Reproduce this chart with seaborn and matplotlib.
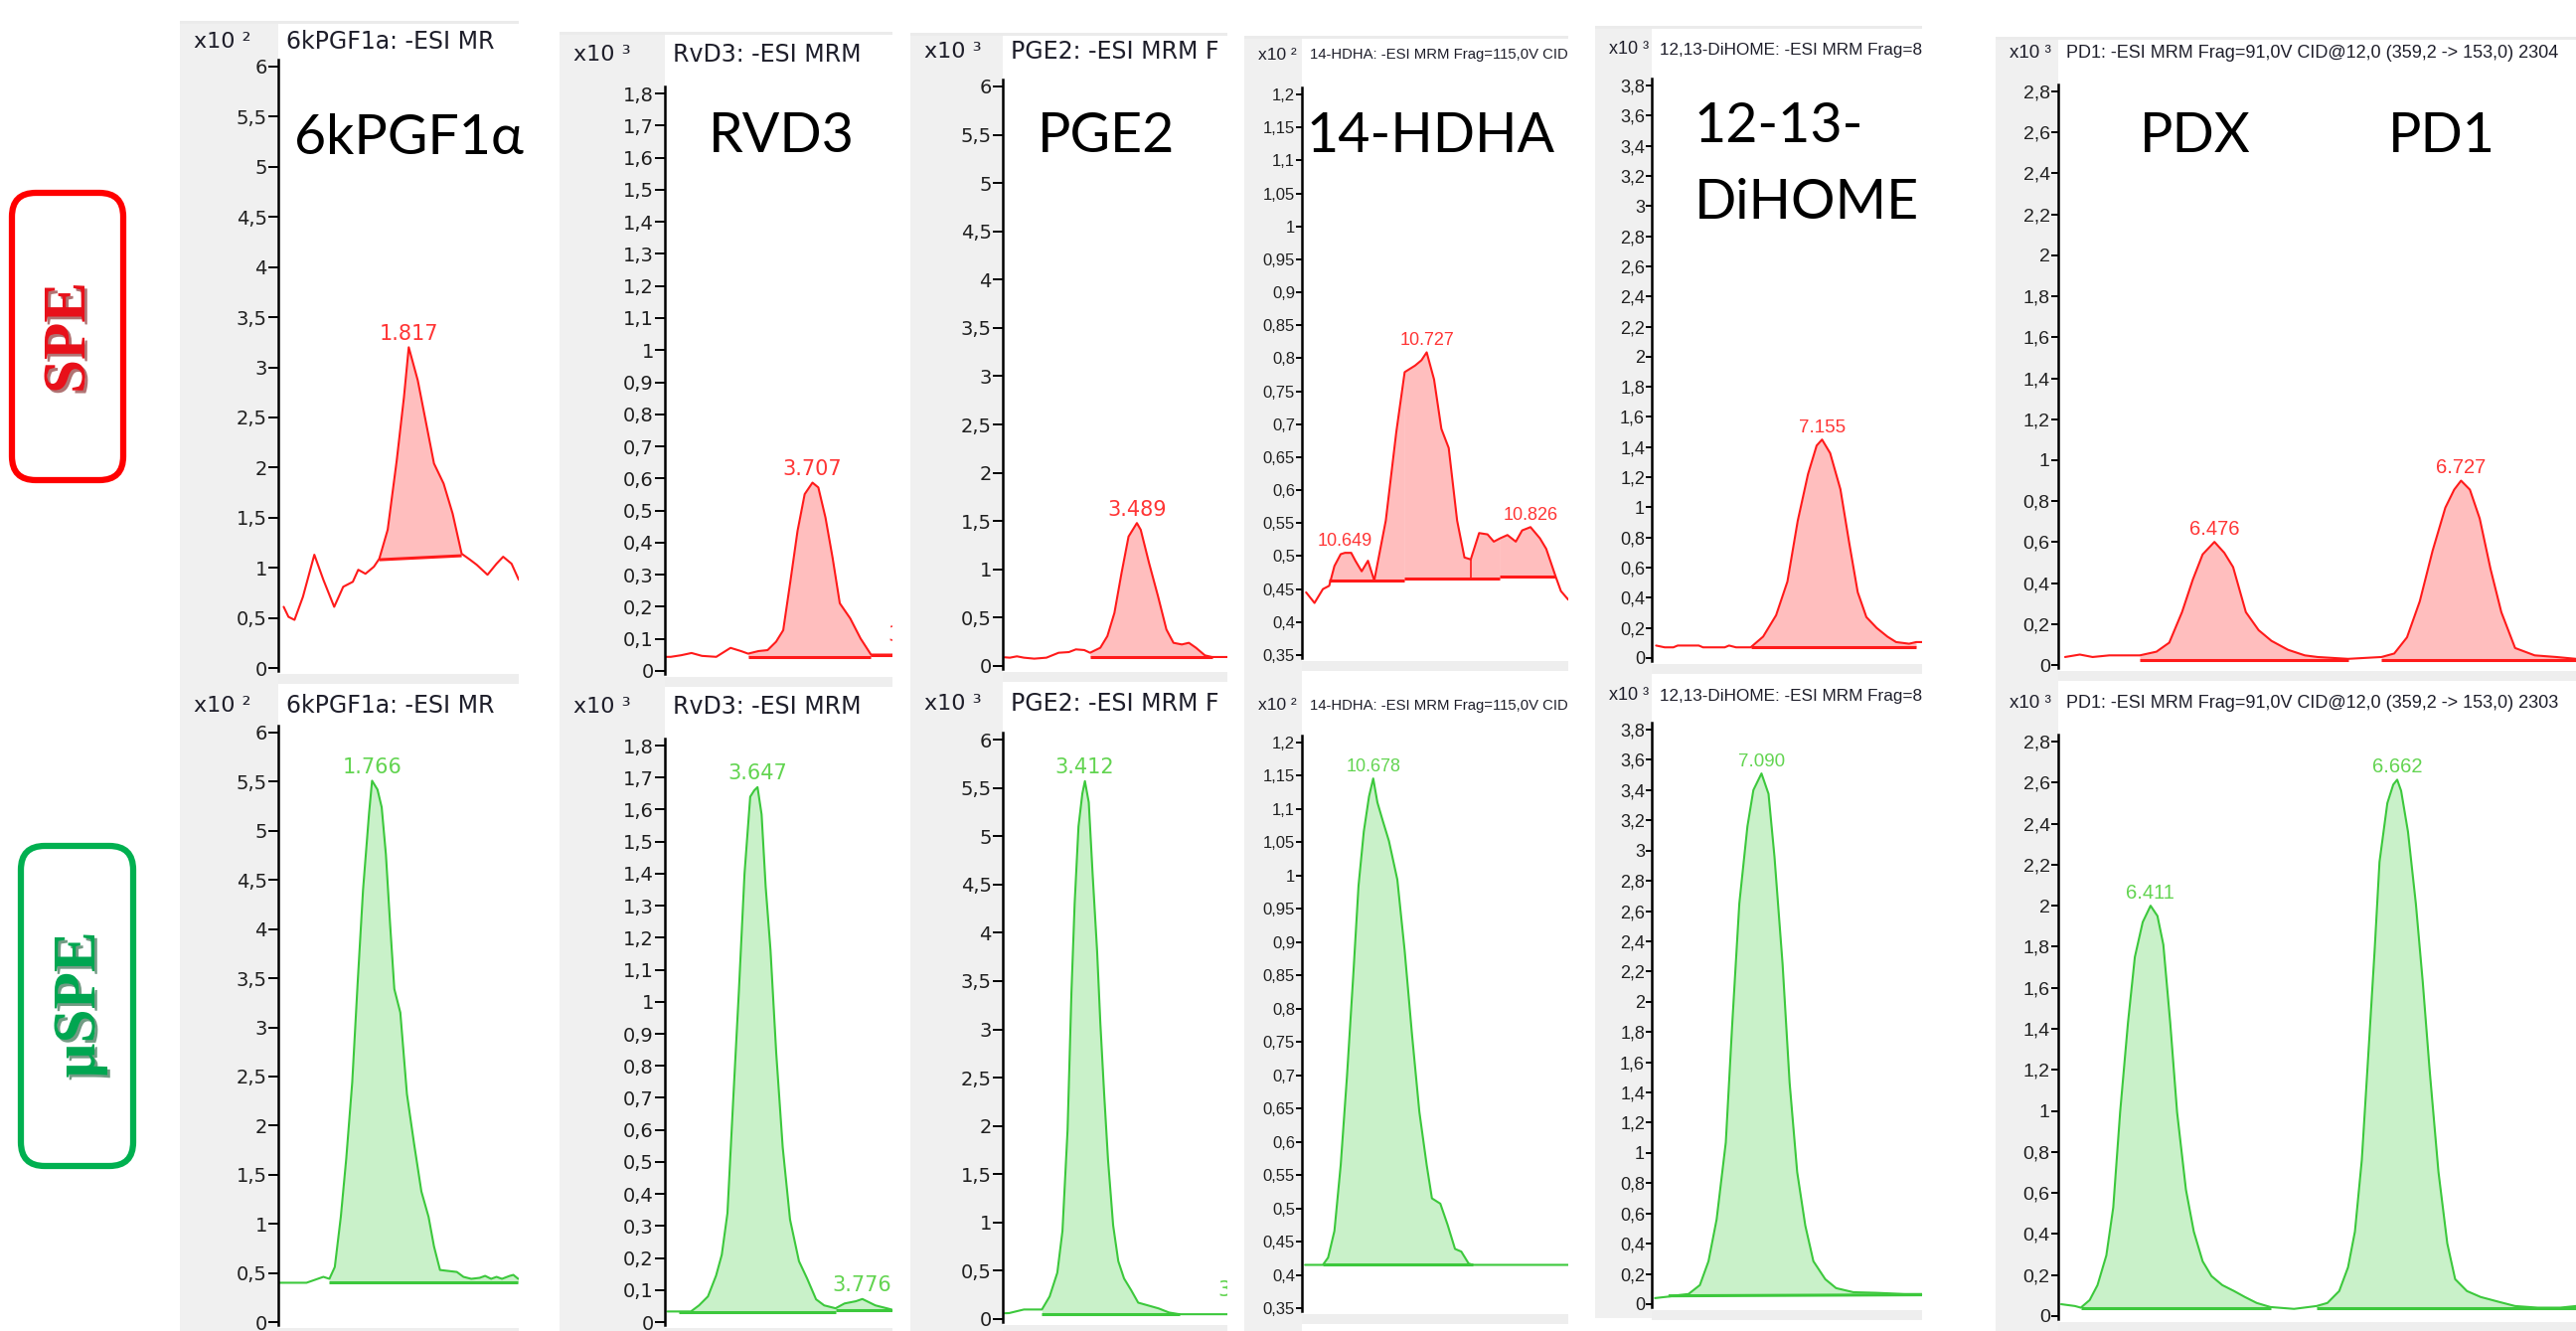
import numpy as np
import matplotlib
matplotlib.use("Agg")
import matplotlib.pyplot as plt
import matplotlib.patheffects as pe
from matplotlib import font_manager as fm
from matplotlib.patches import Rectangle, FancyBboxPatch
from matplotlib.ticker import FixedLocator, FuncFormatter
import seaborn as sns

# ---------------------------------------------------------------------------
# chromatogram traces: retention time (min) / abundance in axis units (x10^n)
# ---------------------------------------------------------------------------
T_6K_SPE = [1.609, 1.617, 1.627, 1.641, 1.660, 1.675, 1.693, 1.708, 1.724, 1.733, 1.745, 1.759,
            1.768, 1.782, 1.797, 1.809, 1.817, 1.832, 1.859, 1.875, 1.890, 1.905, 1.919, 1.930,
            1.948, 1.963, 1.974, 1.988, 2.000]
Y_6K_SPE = [0.61, 0.51, 0.48, 0.71, 1.13, 0.88, 0.61, 0.81, 0.86, 0.98, 0.94, 1.01,
            1.09, 1.38, 2.07, 2.70, 3.20, 2.87, 2.04, 1.84, 1.54, 1.14, 1.08, 1.03,
            0.93, 1.04, 1.11, 1.04, 0.88]
T_6K_USPE = [1.612, 1.621, 1.657, 1.671, 1.685, 1.695, 1.704, 1.714, 1.723, 1.733, 1.742, 1.751,
             1.761, 1.766, 1.775, 1.782, 1.789, 1.796, 1.803, 1.813, 1.824, 1.836, 1.848, 1.860,
             1.869, 1.879, 1.893, 1.907, 1.918, 1.931, 1.945, 1.954, 1.964, 1.973, 1.982, 1.995,
             2.001, 2.009]
Y_6K_USPE = [0.40, 0.40, 0.40, 0.43, 0.46, 0.44, 0.56, 1.07, 1.66, 2.44, 3.45, 4.40,
             5.18, 5.51, 5.42, 5.24, 4.76, 4.05, 3.39, 3.15, 2.32, 1.81, 1.33, 1.07,
             0.77, 0.53, 0.52, 0.51, 0.46, 0.44, 0.45, 0.47, 0.44, 0.46, 0.44, 0.47,
             0.48, 0.44]

T_RVD3_SPE = [3.481, 3.489, 3.505, 3.521, 3.537, 3.559, 3.581, 3.597, 3.608, 3.624, 3.638, 3.651,
              3.662, 3.673, 3.684, 3.695, 3.707, 3.716, 3.727, 3.738, 3.749, 3.765, 3.781, 3.797,
              3.830]
Y_RVD3_SPE = [0.044, 0.044, 0.049, 0.056, 0.047, 0.044, 0.072, 0.062, 0.054, 0.062, 0.065, 0.091,
              0.127, 0.279, 0.436, 0.551, 0.587, 0.572, 0.478, 0.352, 0.211, 0.164, 0.101, 0.051,
              0.051]
T_RVD3_USPE = [3.536, 3.542, 3.565, 3.575, 3.586, 3.596, 3.603, 3.610, 3.617, 3.624, 3.631, 3.638,
               3.643, 3.647, 3.652, 3.657, 3.663, 3.670, 3.678, 3.687, 3.698, 3.708, 3.719, 3.729,
               3.743, 3.754, 3.768, 3.776, 3.792, 3.806, 3.812]
Y_RVD3_USPE = [0.033, 0.033, 0.033, 0.052, 0.080, 0.145, 0.21, 0.34, 0.69, 1.03, 1.40, 1.64,
               1.66, 1.67, 1.585, 1.36, 1.16, 0.84, 0.545, 0.32, 0.19, 0.136, 0.071, 0.052,
               0.043, 0.058, 0.065, 0.072, 0.052, 0.043, 0.039]

T_PGE2_SPE = [3.283, 3.291, 3.302, 3.313, 3.329, 3.348, 3.367, 3.383, 3.394, 3.407, 3.416, 3.432,
              3.443, 3.454, 3.465, 3.476, 3.489, 3.495, 3.508, 3.522, 3.535, 3.546, 3.559, 3.570,
              3.581, 3.595, 3.606, 3.630]
Y_PGE2_SPE = [0.09, 0.086, 0.10, 0.086, 0.076, 0.086, 0.137, 0.144, 0.172, 0.165, 0.137, 0.189,
              0.309, 0.55, 0.96, 1.34, 1.48, 1.41, 1.065, 0.72, 0.378, 0.24, 0.223, 0.24,
              0.189, 0.11, 0.093, 0.093]
T_PGE2_USPE = [3.287, 3.294, 3.305, 3.317, 3.345, 3.357, 3.369, 3.377, 3.385, 3.391, 3.396, 3.402,
               3.408, 3.412, 3.418, 3.424, 3.431, 3.436, 3.442, 3.448, 3.456, 3.464, 3.473, 3.484,
               3.495, 3.511, 3.527, 3.543, 3.559, 3.575, 3.598, 3.634]
Y_PGE2_USPE = [0.06, 0.062, 0.08, 0.099, 0.099, 0.234, 0.48, 0.91, 1.96, 3.38, 4.30, 5.10,
               5.44, 5.57, 5.35, 4.61, 3.81, 3.07, 2.33, 1.65, 0.97, 0.60, 0.42, 0.30,
               0.17, 0.14, 0.11, 0.068, 0.05, 0.05, 0.05, 0.05]

T_HDHA_SPE = [10.612, 10.620, 10.628, 10.634, 10.639, 10.645, 10.649, 10.655, 10.659, 10.665,
              10.671, 10.677, 10.688, 10.698, 10.706, 10.716, 10.722, 10.727, 10.734, 10.741,
              10.748, 10.756, 10.763, 10.769, 10.777, 10.785, 10.791, 10.797, 10.804, 10.812,
              10.818, 10.826, 10.835, 10.841, 10.850, 10.855, 10.862]
Y_HDHA_SPE = [0.445, 0.429, 0.450, 0.455, 0.485, 0.503, 0.505, 0.505, 0.493, 0.477,
              0.493, 0.463, 0.554, 0.688, 0.779, 0.789, 0.797, 0.809, 0.768, 0.693,
              0.664, 0.554, 0.498, 0.495, 0.535, 0.533, 0.522, 0.527, 0.532, 0.522,
              0.539, 0.544, 0.527, 0.511, 0.469, 0.447, 0.434]
T_HDHA_USPE = [10.613, 10.630, 10.635, 10.641, 10.647, 10.653, 10.659, 10.664, 10.669, 10.674,
               10.678, 10.682, 10.687, 10.693, 10.701, 10.708, 10.715, 10.722, 10.729, 10.734,
               10.742, 10.749, 10.756, 10.762, 10.769, 10.773, 10.864]
Y_HDHA_USPE = [0.415, 0.415, 0.426, 0.466, 0.565, 0.699, 0.851, 0.985, 1.066, 1.119,
               1.146, 1.110, 1.083, 1.052, 0.994, 0.887, 0.761, 0.645, 0.565, 0.515,
               0.507, 0.475, 0.439, 0.435, 0.417, 0.415, 0.415]

T_DIHOME_SPE = [6.848, 6.864, 6.880, 6.888, 6.927, 6.935, 6.975, 6.983, 6.996, 7.023, 7.046, 7.070,
                7.091, 7.110, 7.129, 7.145, 7.155, 7.170, 7.189, 7.205, 7.221, 7.237, 7.256, 7.276,
                7.292, 7.316, 7.329, 7.340]
Y_DIHOME_SPE = [0.083, 0.071, 0.071, 0.083, 0.083, 0.071, 0.071, 0.083, 0.071, 0.071, 0.142, 0.284,
                0.508, 0.91, 1.22, 1.41, 1.45, 1.36, 1.12, 0.77, 0.437, 0.272, 0.20, 0.142,
                0.106, 0.095, 0.106, 0.106]
T_DIHOME_USPE = [6.893, 6.918, 6.937, 6.955, 6.976, 6.992, 7.007, 7.024, 7.036, 7.049, 7.064, 7.075,
                 7.090, 7.103, 7.114, 7.129, 7.142, 7.156, 7.171, 7.186, 7.208, 7.228, 7.260, 7.302,
                 7.354, 7.387]
Y_DIHOME_USPE = [0.04, 0.05, 0.06, 0.067, 0.126, 0.284, 0.56, 1.07, 1.86, 2.65, 3.16, 3.40,
                 3.51, 3.375, 2.96, 2.25, 1.465, 0.874, 0.52, 0.284, 0.165, 0.106, 0.079, 0.075,
                 0.067, 0.067]

T_PD_SPE = [6.324, 6.339, 6.352, 6.369, 6.400, 6.417, 6.430, 6.443, 6.454, 6.464, 6.476, 6.486,
            6.495, 6.508, 6.521, 6.534, 6.551, 6.568, 6.581, 6.612, 6.646, 6.659, 6.672, 6.685,
            6.698, 6.711, 6.720, 6.727, 6.736, 6.746, 6.757, 6.768, 6.782, 6.802, 6.824, 6.844]
Y_PD_SPE = [0.039, 0.051, 0.039, 0.047, 0.047, 0.065, 0.109, 0.258, 0.417, 0.54, 0.601, 0.548,
            0.478, 0.258, 0.17, 0.118, 0.074, 0.047, 0.039, 0.030, 0.039, 0.056, 0.135, 0.311,
            0.557, 0.768, 0.856, 0.90, 0.856, 0.715, 0.469, 0.258, 0.083, 0.047, 0.039, 0.030]
T_PD_USPE = [6.320, 6.334, 6.340, 6.349, 6.357, 6.366, 6.373, 6.380, 6.388, 6.395, 6.403, 6.411,
             6.418, 6.424, 6.431, 6.438, 6.447, 6.455, 6.464, 6.473, 6.484, 6.496, 6.507, 6.519,
             6.533, 6.557, 6.580, 6.591, 6.603, 6.612, 6.619, 6.626, 6.632, 6.639, 6.644, 6.652,
             6.658, 6.662, 6.666, 6.673, 6.681, 6.688, 6.695, 6.704, 6.713, 6.721, 6.733, 6.747,
             6.765, 6.782, 6.805, 6.828, 6.844]
Y_PD_USPE = [0.058, 0.049, 0.041, 0.078, 0.151, 0.296, 0.529, 0.993, 1.43, 1.75, 1.92, 2.00,
             1.95, 1.81, 1.43, 0.993, 0.616, 0.412, 0.267, 0.195, 0.151, 0.122, 0.093, 0.064,
             0.044, 0.035, 0.049, 0.064, 0.122, 0.238, 0.412, 0.761, 1.226, 1.778, 2.213, 2.50,
             2.59, 2.614, 2.56, 2.36, 2.01, 1.63, 1.20, 0.703, 0.354, 0.18, 0.122, 0.093,
             0.07, 0.049, 0.041, 0.041, 0.049]

# integration baselines (t0, y0, t1, y1)
B_6K_SPE = [(1.768, 1.08, 1.905, 1.12)]
B_6K_USPE = [(1.695, 0.40, 2.009, 0.40)]
B_RVD3_SPE = [(3.608, 0.044, 3.797, 0.044), (3.797, 0.051, 3.830, 0.051)]
B_RVD3_USPE = [(3.550, 0.030, 3.743, 0.030), (3.743, 0.036, 3.813, 0.036)]
B_PGE2_SPE = [(3.416, 0.093, 3.606, 0.093)]
B_PGE2_USPE = [(3.345, 0.050, 3.559, 0.050)]
B_HDHA_SPE = [(10.634, 0.463, 10.706, 0.463), (10.706, 0.466, 10.797, 0.466),
              (10.797, 0.469, 10.850, 0.469)]
B_HDHA_USPE = [(10.630, 0.415, 10.773, 0.415)]
B_DIHOME_SPE = [(7.023, 0.071, 7.329, 0.071)]
B_DIHOME_USPE = [(6.918, 0.055, 7.387, 0.062)]
B_PD_SPE = [(6.400, 0.026, 6.612, 0.026), (6.646, 0.026, 6.844, 0.026)]
B_PD_USPE = [(6.340, 0.041, 6.533, 0.041), (6.580, 0.041, 6.844, 0.041)]
DROP_HDHA_SPE = [10.769]

# labelled apex retention times
PK_6K_SPE, PK_6K_USPE = [1.817], [1.766]
PK_RVD3_SPE, PK_RVD3_USPE = [3.707], [3.647, 3.776]
PK_PGE2_SPE, PK_PGE2_USPE = [3.489], [3.412]
PK_HDHA_SPE, PK_HDHA_USPE = [10.649, 10.727, 10.826], [10.678]
PK_DIHOME_SPE, PK_DIHOME_USPE = [7.155], [7.090]
PK_PD_SPE, PK_PD_USPE = [6.476, 6.727], [6.411, 6.662]
# labels of peaks just outside the window (clipped at the right edge)
EXTRA_RVD3_SPE = [("3.869", 3.869, 0.08)]
EXTRA_PGE2_USPE = [("3.666", 3.666, 0.20)]

# time windows
X_6K_SPE, X_6K_USPE = (1.600, 2.000), (1.610, 2.010)
X_RVD3_SPE, X_RVD3_USPE = (3.480, 3.830), (3.533, 3.813)
X_PGE2_SPE, X_PGE2_USPE = (3.280, 3.630), (3.284, 3.634)
X_HDHA_SPE, X_HDHA_USPE = (10.608, 10.862), (10.610, 10.864)
X_DIHOME_SPE, X_DIHOME_USPE = (6.840, 7.340), (6.887, 7.387)
X_PD_SPE, X_PD_USPE = (6.317, 6.844), (6.317, 6.844)

COMPOUNDS = ["6kPGF1α", "RVD3", "PGE2", "14-HDHA", "12-13-\nDiHOME", "PDX   PD1"]
HEADERS = ["6kPGF1a: -ESI MR", "RvD3: -ESI MRM", "PGE2: -ESI MRM F",
           "14-HDHA: -ESI MRM Frag=115,0V CID", "12,13-DiHOME: -ESI MRM Frag=8",
           "PD1: -ESI MRM Frag=91,0V CID@12,0 (359,2 -> 153,0) 2304"]
HEADERS_BOTTOM = HEADERS[:5] + ["PD1: -ESI MRM Frag=91,0V CID@12,0 (359,2 -> 153,0) 2303"]
EXPONENTS = ["²", "³", "³", "²", "³", "³"]
TICK_RANGES = [(0, 6, 0.5), (0, 1.8, 0.1), (0, 6, 0.5), (0.35, 1.2, 0.05), (0, 3.8, 0.2), (0, 2.8, 0.2)]

# ---------------------------------------------------------------------------
W, H = 2592, 1339
sns.set_theme(style="white")
plt.rcParams["font.family"] = ["DejaVu Sans"]

_names = {f.name for f in fm.fontManager.ttflist}
NARROW = "Liberation Sans Narrow" if "Liberation Sans Narrow" in _names else "Liberation Sans"

RED = dict(line="#FF1A1A", fill="#FFBEBE", label="#FF3535")
GREEN = dict(line="#3CC83C", fill="#C9F1C9", label="#62D450")
STRIP = "#F0F0F0"
TXT = "#1E1E2A"

# pixel layout per column: strip left, spine, right edge,
# top row (strip top, header y, px of top tick, px of bottom tick), bottom row (header y, px top tick, px bottom tick)
GEOM = [
    dict(strip=181, spine=280, right=522, top=(21, 42, 67, 672), bot=(710, 737, 1330), strip_end=1339,
         font="DejaVu Sans", hs=17, es=16, ts=14, ps=15, tl=7),
    dict(strip=563, spine=669, right=898, top=(32, 55, 94, 675), bot=(711, 750, 1330), strip_end=1339,
         font="DejaVu Sans", hs=17, es=16, ts=14, ps=15, tl=7),
    dict(strip=916, spine=1009, right=1235, top=(33, 52, 87, 670), bot=(708, 744, 1327), strip_end=1339,
         font="DejaVu Sans", hs=17, es=16, ts=14, ps=15, tl=7),
    dict(strip=1252, spine=1310, right=1578, top=(36, 55, 95, 659), bot=(710, 747, 1316), strip_end=1339,
         font=NARROW, hs=10.7, es=12.5, ts=12, ps=13, tl=4),
    dict(strip=1605, spine=1662, right=1934, top=(26, 50, 86, 662), bot=(700, 734, 1312), strip_end=1326,
         font=NARROW, hs=12.3, es=13, ts=13, ps=13.5, tl=4),
    dict(strip=2008, spine=2071, right=2592, top=(37, 53, 92, 669), bot=(708, 746, 1324), strip_end=1339,
         font=NARROW, hs=13, es=13.5, ts=14, ps=14.5, tl=5),
]

PANELS = [
    (0, 0, T_6K_SPE, Y_6K_SPE, X_6K_SPE, B_6K_SPE, PK_6K_SPE, [], []),
    (0, 1, T_6K_USPE, Y_6K_USPE, X_6K_USPE, B_6K_USPE, PK_6K_USPE, [], []),
    (1, 0, T_RVD3_SPE, Y_RVD3_SPE, X_RVD3_SPE, B_RVD3_SPE, PK_RVD3_SPE, EXTRA_RVD3_SPE, []),
    (1, 1, T_RVD3_USPE, Y_RVD3_USPE, X_RVD3_USPE, B_RVD3_USPE, PK_RVD3_USPE, [], []),
    (2, 0, T_PGE2_SPE, Y_PGE2_SPE, X_PGE2_SPE, B_PGE2_SPE, PK_PGE2_SPE, [], []),
    (2, 1, T_PGE2_USPE, Y_PGE2_USPE, X_PGE2_USPE, B_PGE2_USPE, PK_PGE2_USPE, EXTRA_PGE2_USPE, []),
    (3, 0, T_HDHA_SPE, Y_HDHA_SPE, X_HDHA_SPE, B_HDHA_SPE, PK_HDHA_SPE, [], DROP_HDHA_SPE),
    (3, 1, T_HDHA_USPE, Y_HDHA_USPE, X_HDHA_USPE, B_HDHA_USPE, PK_HDHA_USPE, [], []),
    (4, 0, T_DIHOME_SPE, Y_DIHOME_SPE, X_DIHOME_SPE, B_DIHOME_SPE, PK_DIHOME_SPE, [], []),
    (4, 1, T_DIHOME_USPE, Y_DIHOME_USPE, X_DIHOME_USPE, B_DIHOME_USPE, PK_DIHOME_USPE, [], []),
    (5, 0, T_PD_SPE, Y_PD_SPE, X_PD_SPE, B_PD_SPE, PK_PD_SPE, [], []),
    (5, 1, T_PD_USPE, Y_PD_USPE, X_PD_USPE, B_PD_USPE, PK_PD_USPE, [], []),
]


def comma_fmt(v, _):
    s = f"{v:.2f}".rstrip("0").rstrip(".")
    return s.replace(".", ",")


fig = plt.figure(figsize=(W / 100, H / 100), dpi=100)
bg = fig.add_axes([0, 0, 1, 1], zorder=-1)
bg.set_xlim(0, W)
bg.set_ylim(H, 0)
bg.axis("off")

# window chrome: grey strips, bands and header lines
for c, g in enumerate(GEOM):
    s_top, head_top, hi_top, lo_top = g["top"]
    head_bot, hi_bot, lo_bot = g["bot"]
    bg.add_patch(Rectangle((g["strip"], s_top), g["spine"] - g["strip"], g["strip_end"] - s_top,
                           facecolor=STRIP, lw=0))
    bg.add_patch(Rectangle((g["strip"], s_top), g["right"] - g["strip"], 3, facecolor="#EBEBEB", lw=0))
    for lo in (lo_top, lo_bot):
        bg.add_patch(Rectangle((g["spine"], lo + 6), g["right"] - g["spine"], 10,
                               facecolor="#EEEEEE", lw=0))
    for hy, head in ((head_top, HEADERS[c]), (head_bot, HEADERS_BOTTOM[c])):
        bg.text(g["strip"] + 14, hy, "x10 " + EXPONENTS[c], ha="left", va="center",
                fontsize=g["es"], family=g["font"], color=TXT)
        bg.text(g["spine"] + 8, hy, head, ha="left", va="center", fontsize=g["hs"],
                family=g["font"], color=TXT)

# chromatograms
for col, row, t, y, xlim, bases, peaks, extra, drops in PANELS:
    g = GEOM[col]
    colors = RED if row == 0 else GREEN
    if row == 0:
        _, _, hi_px, lo_px = g["top"]
    else:
        _, hi_px, lo_px = g["bot"]
    lo_v, hi_v, step = TICK_RANGES[col]
    ppu = (lo_px - hi_px) / (hi_v - lo_v)
    ytop = hi_px - 7
    ybot = min(lo_px + 3, H)
    ax = fig.add_axes([g["spine"] / W, 1 - ybot / H, (g["right"] - g["spine"]) / W, (ybot - ytop) / H])
    ax.set_facecolor("none")

    t = np.asarray(t)
    y = np.asarray(y)
    for t0, b0, t1, b1 in bases:
        inside = (t > t0) & (t < t1)
        tt = np.concatenate([[t0], t[inside], [t1]])
        yy = np.interp(tt, t, y)
        bb = np.interp(tt, [t0, t1], [b0, b1])
        ax.fill_between(tt, yy, bb, color=colors["fill"], linewidth=0, zorder=1)
        ax.plot([t0, t1], [b0, b1], color=colors["line"], linewidth=2.2, zorder=3,
                solid_capstyle="butt")
    for d in drops:
        yb = np.interp(d, [b[0] for b in bases] + [b[2] for b in bases],
                       [b[1] for b in bases] + [b[3] for b in bases])
        ax.plot([d, d], [yb, np.interp(d, t, y)], color=colors["line"], linewidth=1.2, zorder=3)

    sns.lineplot(x=t, y=y, ax=ax, color=colors["line"], linewidth=1.5, errorbar=None, zorder=2)

    for pk in peaks:
        ax.annotate(f"{pk:.3f}", (pk, np.interp(pk, t, y)), xytext=(0, 2.5),
                    textcoords="offset points", ha="center", va="bottom",
                    color=colors["label"], fontsize=g["ps"], family=g["font"], clip_on=True)
    for lab, tx, ty in extra:
        ax.text(tx, ty, lab, ha="center", va="bottom", color=colors["label"],
                fontsize=g["ps"], family=g["font"], clip_on=True)

    ax.set_xlim(*xlim)
    ax.set_ylim(lo_v - (ybot - lo_px) / ppu, hi_v + (hi_px - ytop) / ppu)
    ticks = np.round(np.arange(lo_v, hi_v + step / 2, step), 2)
    ax.yaxis.set_major_locator(FixedLocator(ticks))
    ax.yaxis.set_major_formatter(FuncFormatter(comma_fmt))
    ax.set_xticks([])
    ax.set_xlabel("")
    ax.set_ylabel("")
    for side in ("top", "right", "bottom"):
        ax.spines[side].set_visible(False)
    ax.spines["left"].set_color("black")
    ax.spines["left"].set_linewidth(1.8)
    ax.tick_params(axis="y", direction="out", length=g["tl"], width=1.4, pad=1,
                   color="black", labelsize=g["ts"], labelcolor="#202020",
                   labelfontfamily=g["font"], left=True)

# compound names
BIG = dict(fontsize=40, family=["Lato", "Noto Sans"], color="black", va="baseline")
fig.text(411 / W, 1 - 155 / H, COMPOUNDS[0], ha="center", **BIG)
fig.text(786 / W, 1 - 153 / H, COMPOUNDS[1], ha="center", **BIG)
fig.text(1113 / W, 1 - 153 / H, COMPOUNDS[2], ha="center", **BIG)
fig.text(1440 / W, 1 - 153 / H, COMPOUNDS[3], ha="center", **BIG)
line1, line2 = COMPOUNDS[4].split("\n")
fig.text(1705 / W, 1 - 143 / H, line1, ha="left", **BIG)
fig.text(1705 / W, 1 - 220 / H, line2, ha="left", **BIG)
pdx, pd1 = COMPOUNDS[5].split()
fig.text(2209 / W, 1 - 153 / H, pdx, ha="center", **BIG)
fig.text(2457 / W, 1 - 153 / H, pd1, ha="center", **BIG)

# method labels in rounded frames
bg.add_patch(FancyBboxPatch((12, 194), 112, 289, boxstyle="round,pad=0,rounding_size=24",
                            fill=False, edgecolor="#FF0000", linewidth=4.5))
bg.add_patch(FancyBboxPatch((21, 851), 113, 322, boxstyle="round,pad=0,rounding_size=24",
                            fill=False, edgecolor="#00B050", linewidth=4.5))
bg.text(70, 340, "SPE", rotation=90, ha="center", va="center", fontsize=44,
        fontweight="bold", family="Liberation Serif", color="#E8101A",
        path_effects=[pe.withSimplePatchShadow(offset=(2, -2), shadow_rgbFace="#700000", alpha=0.55)])
bg.text(80, 1011, "µSPE", rotation=90, ha="center", va="center", fontsize=44,
        fontweight="bold", family="Liberation Serif", color="#00A651",
        path_effects=[pe.withSimplePatchShadow(offset=(2, -2), shadow_rgbFace="#004a20", alpha=0.55)])

fig.savefig("out.png", dpi=100)
